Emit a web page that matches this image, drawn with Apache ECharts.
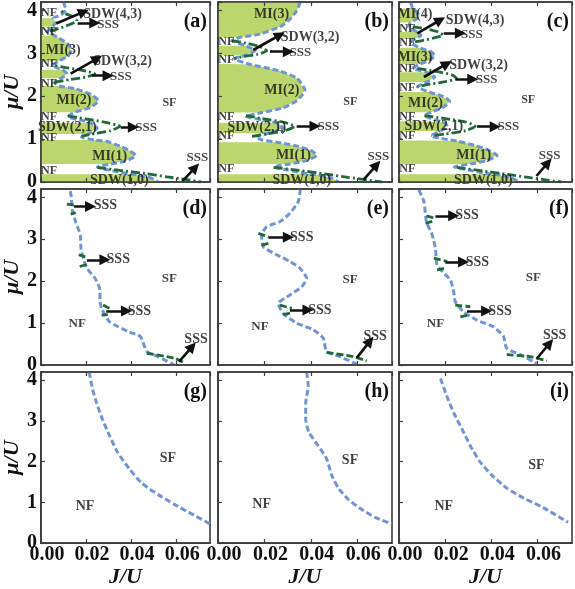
<!DOCTYPE html>
<html>
<head>
<meta charset="utf-8">
<script src="https://cdn.jsdelivr.net/npm/echarts@6/dist/echarts.min.js"></script>
<style>
  html, body { margin: 0; padding: 0; background: #fff; }
  #chart { width: 575px; height: 589px; }
</style>
</head>
<body>
<div id="chart"></div>
<script>
// axes
const xTicks = [0, 0.02, 0.04, 0.06];
const yTicks = [0, 1, 2, 3, 4];

// ---- row 1 : (a) (b) (c) ----
// insulating lobes (MI and SDW), each a closed outline in [J/U, mu/U]
const fillA = [
  [[0, 3.62], [0.005, 3.62], [0.0065, 3.72], [0.0055, 3.82], [0, 3.82]],
  [[0, 2.82], [0.008, 2.82], [0.012, 2.94], [0.0135, 3.08], [0.012, 3.22], [0.008, 3.36], [0.006, 3.42], [0, 3.42]],
  [[0, 2.42], [0.009, 2.42], [0.0115, 2.52], [0.0095, 2.62], [0, 2.62]],
  [[0, 1.63], [0.015, 1.63], [0.022, 1.74], [0.0255, 1.9], [0.022, 2.05], [0.015, 2.18], [0.008, 2.24], [0, 2.24]],
  [[0, 1.12], [0.021, 1.12], [0.025, 1.26], [0.022, 1.38], [0, 1.38]],
  [[0, 0.42], [0.031, 0.42], [0.038, 0.5], [0.042, 0.62], [0.039, 0.74], [0.035, 0.84], [0.029, 0.95], [0.024, 0.98], [0, 0.98]],
  [[0, 0], [0.052, 0], [0.049, 0.09], [0.043, 0.17], [0.04, 0.18], [0, 0.18]]
];
const blueA = [
  [0.010, 4.2], [0.011, 4.02], [0.009, 3.9], [0.0055, 3.82], [0.0065, 3.72], [0.005, 3.62], [0.003, 3.52],
  [0.006, 3.42], [0.008, 3.36], [0.012, 3.22], [0.0135, 3.08], [0.012, 2.94], [0.008, 2.82], [0.005, 2.72],
  [0.0095, 2.62], [0.0115, 2.52], [0.009, 2.42], [0.006, 2.33], [0.008, 2.24], [0.015, 2.18], [0.022, 2.05],
  [0.0255, 1.9], [0.022, 1.74], [0.015, 1.63], [0.012, 1.52], [0.018, 1.44], [0.022, 1.38], [0.025, 1.26],
  [0.021, 1.12], [0.018, 1.05], [0.024, 0.98], [0.029, 0.95], [0.035, 0.84], [0.039, 0.74], [0.042, 0.62],
  [0.038, 0.5], [0.031, 0.42], [0.025, 0.35], [0.030, 0.28], [0.040, 0.18], [0.043, 0.17], [0.049, 0.09], [0.052, 0]
];
const sssA = [
  [[0.004, 3.52], [0.009, 3.6], [0.013, 3.68], [0.016, 3.76], [0.014, 3.86], [0.01, 3.95], [0.008, 4.05]],
  [[0.006, 2.33], [0.013, 2.39], [0.02, 2.45], [0.024, 2.52], [0.019, 2.6], [0.011, 2.67], [0.006, 2.72]],
  [[0.012, 1.54], [0.02, 1.47], [0.028, 1.4], [0.035, 1.3], [0.031, 1.2], [0.024, 1.13], [0.018, 1.07]],
  [[0.025, 0.34], [0.035, 0.27], [0.046, 0.2], [0.056, 0.12], [0.064, 0.06], [0.071, 0]]
];
const arrowA = [
  [[0.0068, 3.70], [0.019, 3.97]],
  [[0.0163, 3.71], [0.0239, 3.71]],
  [[0.0132, 2.53], [0.025, 2.88]],
  [[0.0226, 2.48], [0.0298, 2.48]],
  [[0.0354, 1.28], [0.041, 1.28]],
  [[0.0628, 0.02], [0.0685, 0.34]]
];
const labelA = [
  ['NF', 0.0036, 3.94], ['NF', 0.0036, 3.51], ['NF', 0.0036, 2.76], ['NF', 0.0036, 2.29],
  ['NF', 0.0036, 1.51], ['NF', 0.0036, 1.04], ['NF', 0.0036, 0.26],
  ['MI(3)', 0.0099, 3.08], ['MI(2)', 0.0147, 1.90], ['MI(1)', 0.0305, 0.60],
  ['SDW(2,1)', 0.0117, 1.28], ['SDW(1,0)', 0.0348, 0.03],
  ['SDW(4,3)', 0.0318, 3.92], ['SDW(3,2)', 0.0362, 2.82],
  ['SSS', 0.0298, 3.68], ['SSS', 0.0355, 2.46], ['SSS', 0.0467, 1.27], ['SSS', 0.0694, 0.57],
  ['SF', 0.057, 1.84]
];

const fillB = [
  [[0, 3.38], [0.010, 3.38], [0.018, 3.45], [0.027, 3.63], [0.031, 3.8], [0.034, 4.0], [0.0355, 4.2], [0, 4.2]],
  [[0, 2.96], [0.012, 2.96], [0.016, 3.07], [0.012, 3.18], [0, 3.18]],
  [[0, 1.62], [0.019, 1.62], [0.028, 1.73], [0.034, 1.9], [0.0375, 2.14], [0.034, 2.42], [0.026, 2.6], [0.014, 2.74], [0, 2.76]],
  [[0, 1.14], [0.022, 1.14], [0.028, 1.26], [0.025, 1.38], [0, 1.38]],
  [[0, 0.42], [0.031, 0.42], [0.038, 0.5], [0.0425, 0.62], [0.04, 0.74], [0.033, 0.85], [0.025, 0.93], [0, 0.93]],
  [[0, 0], [0.052, 0], [0.049, 0.09], [0.043, 0.17], [0.04, 0.18], [0, 0.18]]
];
const blueB = [
  [0.0355, 4.2], [0.034, 4.0], [0.031, 3.8], [0.027, 3.63], [0.018, 3.45], [0.010, 3.38], [0.006, 3.3],
  [0.012, 3.18], [0.016, 3.07], [0.012, 2.96], [0.007, 2.88], [0.014, 2.74], [0.026, 2.6], [0.034, 2.42],
  [0.0375, 2.14], [0.034, 1.9], [0.028, 1.73], [0.019, 1.62], [0.012, 1.53], [0.019, 1.45], [0.025, 1.38],
  [0.028, 1.26], [0.022, 1.14], [0.016, 1.06], [0.019, 0.98], [0.025, 0.93], [0.033, 0.85], [0.04, 0.74],
  [0.0425, 0.62], [0.038, 0.5], [0.031, 0.42], [0.024, 0.35], [0.030, 0.28], [0.040, 0.18], [0.043, 0.17],
  [0.049, 0.09], [0.052, 0]
];
const sssB = [
  [[0.006, 3.3], [0.012, 3.24], [0.018, 3.16], [0.021, 3.06], [0.017, 2.98], [0.011, 2.93], [0.007, 2.88]],
  [[0.012, 1.55], [0.02, 1.47], [0.028, 1.4], [0.033, 1.3], [0.029, 1.2], [0.021, 1.12], [0.014, 1.06]],
  [[0.024, 0.34], [0.035, 0.27], [0.046, 0.19], [0.056, 0.11], [0.064, 0.05], [0.0706, 0]]
];
const arrowB = [
  [[0.0152, 3.08], [0.0267, 3.43]],
  [[0.0224, 3.04], [0.0303, 3.04]],
  [[0.0339, 1.3], [0.0418, 1.3]],
  [[0.0627, 0.05], [0.0684, 0.4]]
];
const labelB = [
  ['NF', 0.0036, 3.27], ['NF', 0.0036, 2.84], ['NF', 0.0036, 1.51], ['NF', 0.0036, 1.08], ['NF', 0.0036, 0.3],
  ['MI(3)', 0.0231, 3.9], ['MI(2)', 0.0275, 2.14], ['MI(1)', 0.0325, 0.61],
  ['SDW(2,1)', 0.0167, 1.28], ['SDW(1,0)', 0.0361, 0.03], ['SDW(3,2)', 0.0397, 3.37],
  ['SSS', 0.0355, 3.03], ['SSS', 0.0476, 1.29], ['SSS', 0.0691, 0.6], ['SF', 0.057, 1.86]
];

const fillC = [
  [[0, 3.72], [0.005, 3.72], [0.0075, 3.8], [0.0085, 3.9], [0.0075, 3.98], [0.006, 4.05], [0, 4.05]],
  [[0, 3.35], [0.007, 3.35], [0.0095, 3.42], [0.008, 3.5], [0, 3.5]],
  [[0, 2.75], [0.009, 2.75], [0.013, 2.84], [0.0155, 2.95], [0.014, 3.04], [0.009, 3.13], [0, 3.13]],
  [[0, 2.33], [0.012, 2.33], [0.0155, 2.45], [0.012, 2.56], [0, 2.56]],
  [[0, 1.63], [0.014, 1.63], [0.019, 1.74], [0.022, 1.88], [0.019, 2.0], [0.013, 2.1], [0, 2.1]],
  [[0, 1.19], [0.018, 1.19], [0.021, 1.3], [0.019, 1.4], [0, 1.42]],
  [[0, 0.42], [0.031, 0.42], [0.038, 0.5], [0.0425, 0.62], [0.039, 0.74], [0.033, 0.85], [0.025, 0.96], [0, 0.97]],
  [[0, 0], [0.052, 0], [0.049, 0.09], [0.043, 0.17], [0.04, 0.18], [0, 0.18]]
];
const blueC = [
  [0.005, 4.2], [0.006, 4.05], [0.0075, 3.98], [0.0085, 3.9], [0.0075, 3.8], [0.005, 3.72], [0.004, 3.62],
  [0.008, 3.5], [0.0095, 3.42], [0.007, 3.35], [0.005, 3.26], [0.009, 3.13], [0.014, 3.04], [0.0155, 2.95],
  [0.013, 2.84], [0.009, 2.75], [0.006, 2.65], [0.012, 2.56], [0.0155, 2.45], [0.012, 2.33], [0.008, 2.22],
  [0.013, 2.1], [0.019, 2.0], [0.022, 1.88], [0.019, 1.74], [0.014, 1.63], [0.011, 1.55], [0.015, 1.46],
  [0.019, 1.4], [0.021, 1.3], [0.018, 1.19], [0.014, 1.08], [0.02, 1.0], [0.025, 0.96], [0.033, 0.85],
  [0.039, 0.74], [0.0425, 0.62], [0.038, 0.5], [0.031, 0.42], [0.024, 0.35], [0.030, 0.28], [0.040, 0.18],
  [0.043, 0.17], [0.049, 0.09], [0.052, 0]
];
const sssC = [
  [[0.006, 3.62], [0.012, 3.57], [0.017, 3.5], [0.019, 3.43], [0.015, 3.36], [0.01, 3.3], [0.006, 3.26]],
  [[0.008, 2.65], [0.016, 2.58], [0.023, 2.5], [0.025, 2.42], [0.02, 2.34], [0.012, 2.27], [0.008, 2.22]],
  [[0.011, 1.55], [0.02, 1.48], [0.029, 1.4], [0.033, 1.3], [0.029, 1.2], [0.02, 1.12], [0.014, 1.08]],
  [[0.025, 0.34], [0.036, 0.26], [0.047, 0.18], [0.057, 0.1], [0.065, 0.04], [0.0705, 0]]
];
const arrowC = [
  [[0.0079, 3.47], [0.0179, 3.78]],
  [[0.0194, 3.47], [0.0266, 3.47]],
  [[0.0108, 2.45], [0.0208, 2.76]],
  [[0.0245, 2.4], [0.032, 2.4]],
  [[0.0338, 1.29], [0.0417, 1.29]],
  [[0.0596, 0.14], [0.0646, 0.45]]
];
const labelC = [
  ['MI(4)', 0.0069, 3.9], ['NF', 0.0036, 3.58], ['NF', 0.0036, 3.24], ['MI(3)', 0.0069, 2.9],
  ['NF', 0.0036, 2.64], ['NF', 0.0036, 2.2], ['MI(2)', 0.0115, 1.84], ['NF', 0.0036, 1.51],
  ['SDW(2,1)', 0.0151, 1.29], ['NF', 0.0036, 1.08], ['MI(1)', 0.0324, 0.61], ['NF', 0.0036, 0.3],
  ['SDW(1,0)', 0.0366, 0.03], ['SDW(4,3)', 0.033, 3.76], ['SSS', 0.0316, 3.44],
  ['SDW(3,2)', 0.0345, 2.72], ['SSS', 0.038, 2.38], ['SSS', 0.0474, 1.29], ['SSS', 0.0653, 0.61],
  ['SF', 0.056, 1.92]
];

// ---- row 2 : (d) (e) (f) ----
const blueD = [
  [0.0130, 4.15], [0.0135, 4.0], [0.0139, 3.70], [0.0154, 3.42], [0.0175, 3.10], [0.0178, 2.78], [0.019, 2.51],
  [0.0204, 2.31], [0.024, 2.07], [0.0262, 1.79], [0.0262, 1.55], [0.0269, 1.35], [0.0305, 1.03], [0.0391, 0.79],
  [0.0441, 0.68], [0.047, 0.32], [0.052, 0.20], [0.0592, 0]
];
const greenD = [
  [[0.0115, 3.84], [0.0154, 3.81]],
  [[0.0132, 3.60], [0.0154, 3.64]],
  [[0.0168, 2.63], [0.0197, 2.58]],
  [[0.0172, 2.35], [0.0204, 2.40]],
  [[0.0276, 1.43], [0.0312, 1.33]],
  [[0.0269, 1.19], [0.0297, 1.20]],
  [[0.047, 0.28], [0.0592, 0.16], [0.0642, 0.04]]
];
const arrowD = [
  [[0.0147, 3.78], [0.022, 3.78]],
  [[0.0204, 2.51], [0.0284, 2.51]],
  [[0.029, 1.29], [0.038, 1.29]],
  [[0.0613, 0.08], [0.0671, 0.44]]
];
const labelD = [
  ['SSS', 0.0286, 3.80], ['SSS', 0.0343, 2.51], ['SSS', 0.0437, 1.29], ['SSS', 0.0688, 0.6],
  ['SF', 0.057, 2.07], ['NF', 0.0161, 0.99]
];

const blueE = [
  [0.0355, 4.2], [0.0346, 3.90], [0.031, 3.62], [0.0267, 3.42], [0.021, 3.30], [0.0188, 3.10], [0.0195, 2.82],
  [0.0253, 2.63], [0.031, 2.47], [0.0353, 2.31], [0.0382, 2.07], [0.0361, 1.87], [0.031, 1.67], [0.026, 1.47],
  [0.0281, 1.23], [0.0339, 1.00], [0.0411, 0.84], [0.0454, 0.64], [0.0468, 0.32], [0.0526, 0.20], [0.0598, 0.02]
];
const greenE = [
  [[0.0174, 3.14], [0.0217, 3.06]],
  [[0.0188, 2.86], [0.0217, 2.90]],
  [[0.0267, 1.43], [0.0318, 1.35]],
  [[0.0281, 1.20], [0.031, 1.24]],
  [[0.0468, 0.30], [0.0583, 0.20], [0.0641, 0.1]]
];
const arrowE = [
  [[0.0217, 3.05], [0.0303, 3.05]],
  [[0.031, 1.31], [0.0388, 1.31]],
  [[0.0598, 0.17], [0.0655, 0.57]]
];
const labelE = [
  ['SSS', 0.0361, 3.05], ['SSS', 0.0439, 1.31], ['SSS', 0.0677, 0.69],
  ['SF', 0.0569, 2.03], ['NF', 0.0181, 0.91]
];

const blueF = [
  [0.0086, 4.18], [0.0108, 3.90], [0.0119, 3.42], [0.0144, 3.10], [0.0158, 2.78], [0.0165, 2.39], [0.0194, 2.19],
  [0.0223, 2.03], [0.0237, 1.75], [0.0244, 1.51], [0.028, 1.27], [0.0338, 1.07], [0.041, 0.91], [0.0453, 0.68],
  [0.0467, 0.40], [0.0524, 0.25], [0.0597, 0.04]
];
const greenF = [
  [[0.0119, 3.56], [0.0158, 3.50]],
  [[0.0115, 3.38], [0.0151, 3.44]],
  [[0.0151, 2.55], [0.0209, 2.47]],
  [[0.0165, 2.27], [0.0201, 2.31]],
  [[0.0244, 1.43], [0.0309, 1.39]],
  [[0.0266, 1.15], [0.0302, 1.19]],
  [[0.0467, 0.25], [0.0568, 0.20], [0.064, 0.10]]
];
const arrowF = [
  [[0.0158, 3.56], [0.0237, 3.56]],
  [[0.0201, 2.46], [0.028, 2.46]],
  [[0.0295, 1.29], [0.038, 1.29]],
  [[0.0597, 0.15], [0.0653, 0.52]]
];
const labelF = [
  ['SSS', 0.0295, 3.56], ['SSS', 0.034, 2.46], ['SSS', 0.0438, 1.29], ['SSS', 0.0675, 0.71],
  ['SF', 0.0582, 2.08], ['NF', 0.0158, 0.99]
];

// ---- row 3 : (g) (h) (i) ----
const blueG = [
  [0.0214, 4.2], [0.023, 3.76], [0.0247, 3.44], [0.0273, 3.04], [0.0305, 2.63], [0.034, 2.23], [0.0391, 1.83],
  [0.0448, 1.47], [0.052, 1.19], [0.0592, 0.95], [0.0671, 0.71], [0.075, 0.47]
];
const blueH = [
  [0.0382, 4.2], [0.0389, 3.84], [0.0378, 3.44], [0.0378, 3.04], [0.0392, 2.72], [0.0432, 2.39], [0.0468, 2.07],
  [0.049, 1.67], [0.0519, 1.35], [0.0562, 1.07], [0.0619, 0.83], [0.0677, 0.63], [0.0749, 0.47]
];
const blueI = [
  [0.018, 4.04], [0.0208, 3.60], [0.0237, 3.20], [0.0273, 2.80], [0.0309, 2.39], [0.0352, 1.99], [0.0402, 1.67],
  [0.0467, 1.35], [0.0539, 1.11], [0.0625, 0.87], [0.0733, 0.51]
];
const labelG = [['SF', 0.0563, 2.09], ['NF', 0.0196, 0.91]];
const labelH = [['SF', 0.0569, 2.03], ['NF', 0.0188, 0.95]];
const labelI = [['SF', 0.0596, 1.91], ['NF', 0.0194, 0.91]];

const panels = [
  { tag: '(a)', fills: fillA, blue: blueA, green: sssA, arrows: arrowA, labels: labelA },
  { tag: '(b)', fills: fillB, blue: blueB, green: sssB, arrows: arrowB, labels: labelB },
  { tag: '(c)', fills: fillC, blue: blueC, green: sssC, arrows: arrowC, labels: labelC },
  { tag: '(d)', fills: [], blue: blueD, green: greenD, arrows: arrowD, labels: labelD },
  { tag: '(e)', fills: [], blue: blueE, green: greenE, arrows: arrowE, labels: labelE },
  { tag: '(f)', fills: [], blue: blueF, green: greenF, arrows: arrowF, labels: labelF },
  { tag: '(g)', fills: [], blue: blueG, green: [], arrows: [], labels: labelG },
  { tag: '(h)', fills: [], blue: blueH, green: [], arrows: [], labels: labelH },
  { tag: '(i)', fills: [], blue: blueI, green: [], arrows: [], labels: labelI }
];

// layout and look
const SERIF = '"Liberation Serif", "Times New Roman", serif';
const FRAME = '#3c3c3c';
const FILL = '#bad66d';
const BLUE = '#7095d2';
const DKGREEN = '#1f6a38';
const INK = '#111';

const colLeft = [36, 218, 399];
const colWidth = [174, 174, 173];
const rowTop = [2, 189, 372];
const rowHeight = [180, 176, 174];

function labelSize(text, row) {
  if (text === 'NF' || text === 'SF') return row === 0 ? 12 : (row === 1 ? 13 : 14);
  if (text === 'SSS') return row === 0 ? 13 : 14;
  return 14;
}

const option = {
  animation: false,
  backgroundColor: '#fff',
  grid: [],
  xAxis: [],
  yAxis: [],
  series: [],
  graphic: []
};

const tickStyle = { show: true, inside: true, length: 4, lineStyle: { color: FRAME, width: 1.2 } };
const lineStyleAxis = { show: true, lineStyle: { color: FRAME, width: 1.6 } };
const tickFont = { color: INK, fontFamily: SERIF, fontWeight: 'bold', fontSize: 20 };
const nameFont = { color: INK, fontFamily: SERIF, fontWeight: 'bold', fontStyle: 'italic', fontSize: 22 };

const topAxes = [];

panels.forEach((p, i) => {
  const r = Math.floor(i / 3);
  const c = i % 3;

  option.grid.push({
    left: colLeft[c], top: rowTop[r], width: colWidth[c], height: rowHeight[r],
    show: true, borderColor: FRAME, borderWidth: 1.6
  });

  option.xAxis.push({
    type: 'value', gridIndex: i, min: xTicks[0], max: 0.075, interval: xTicks[1] - xTicks[0], z: 10,
    axisLine: lineStyleAxis, axisTick: tickStyle, splitLine: { show: false },
    axisLabel: Object.assign({
      show: r === 2, showMaxLabel: false, margin: 2, padding: [0, 0, 0, 12],
      formatter: v => v.toFixed(2)
    }, tickFont),
    name: r === 2 ? 'J/U' : '', nameLocation: 'middle', nameGap: 22, nameTextStyle: nameFont
  });
  topAxes.push({
    type: 'value', gridIndex: i, position: 'top', min: xTicks[0], max: 0.075, interval: xTicks[1] - xTicks[0], z: 10,
    axisLine: lineStyleAxis, axisTick: tickStyle, splitLine: { show: false }, axisLabel: { show: false }
  });

  option.yAxis.push({
    type: 'value', gridIndex: i, min: yTicks[0], max: 4.2, interval: yTicks[1] - yTicks[0], z: 10,
    axisLine: lineStyleAxis, axisTick: tickStyle, splitLine: { show: false },
    axisLabel: Object.assign({ show: c === 0, showMaxLabel: false, margin: 4 }, tickFont),
    name: c === 0 ? 'μ/U' : '', nameLocation: 'middle', nameGap: 14, nameRotate: 90, nameTextStyle: nameFont
  });

  if (p.fills.length) {
    const polys = p.fills;
    option.series.push({
      type: 'custom', xAxisIndex: i, yAxisIndex: i, z: 2, silent: true, clip: true,
      data: polys.map(poly => poly[0]),
      renderItem: (params, api) => ({
        type: 'polygon',
        shape: { points: polys[params.dataIndex].map(pt => api.coord(pt)) },
        style: { fill: FILL }
      })
    });
  }

  option.series.push({
    type: 'line', xAxisIndex: i, yAxisIndex: i, z: 4, silent: true,
    showSymbol: false, symbol: 'none', smooth: 0.2, data: p.blue,
    lineStyle: { color: BLUE, width: 3, type: [6, 3] }
  });

  p.green.forEach(seg => {
    option.series.push({
      type: 'line', xAxisIndex: i, yAxisIndex: i, z: 5, silent: true,
      showSymbol: false, symbol: 'none', smooth: 0.2, data: seg,
      lineStyle: { color: DKGREEN, width: 2.8, type: r === 0 ? [9, 3, 2, 3] : [7, 3] }
    });
  });

  if (p.arrows.length) {
    option.series.push({
      type: 'lines', coordinateSystem: 'cartesian2d', xAxisIndex: i, yAxisIndex: i, z: 6, silent: true,
      symbol: ['none', 'triangle'], symbolSize: 11,
      lineStyle: { color: INK, width: 2.6, opacity: 1, curveness: 0 },
      data: p.arrows.map(a => ({ coords: a }))
    });
  }

  option.series.push({
    type: 'scatter', xAxisIndex: i, yAxisIndex: i, z: 8, silent: true,
    symbolSize: 1, itemStyle: { color: 'rgba(0,0,0,0)' },
    data: p.labels.map(l => ({ name: l[0], value: [l[1], l[2]], label: { fontSize: labelSize(l[0], r) } })),
    label: { show: true, position: 'inside', formatter: '{b}', color: INK, fontFamily: SERIF, fontWeight: 'bold' }
  });

  option.graphic.push({
    type: 'text', z: 20,
    x: colLeft[c] + colWidth[c] - 3, y: rowTop[r] + 20,
    style: {
      text: p.tag, font: 'bold 20px ' + SERIF, fill: INK,
      align: 'right', verticalAlign: 'middle', textAlign: 'right', textVerticalAlign: 'middle'
    }
  });
});

option.xAxis = option.xAxis.concat(topAxes);

const chart = echarts.init(document.getElementById('chart'), null, { renderer: 'canvas' });
chart.setOption(option);
</script>
</body>
</html>
